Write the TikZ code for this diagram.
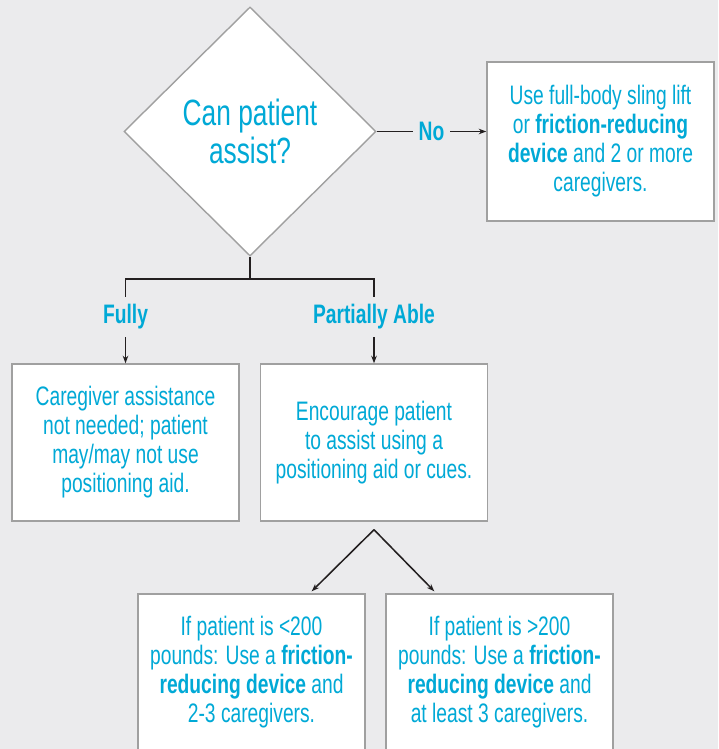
\documentclass[tikz,border=0pt]{standalone}
\usepackage{fontspec}
\setmainfont{Liberation Sans}[FakeStretch=0.72]
\usetikzlibrary{shapes.geometric,arrows.meta,calc}
\definecolor{bggray}{RGB}{235,235,237}
\definecolor{tealtext}{RGB}{0,169,214}
\definecolor{boxline}{RGB}{160,160,160}
\definecolor{linkline}{RGB}{35,31,32}
\tikzset{
  infobox/.style={draw=boxline,fill=white,line width=1pt,minimum width=5.675cm,minimum height=3.925cm,text=tealtext,align=center,font=\fontsize{19}{20.6}\selectfont},
  branchtag/.style={text=tealtext,font=\bfseries\fontsize{19}{20.6}\selectfont,minimum height=1cm,inner sep=0pt},
  link/.style={draw=linkline,line width=1.1pt},
  linkarrow/.style={link,-{Stealth[length=1.9mm,width=1.4mm]}}
}

\begin{document}
\begin{tikzpicture}[x=0.025cm,y=-0.025cm]
\fill[bggray] (0,0) rectangle (718,749);
\useasboundingbox (0,0) rectangle (718,749);
\clip (0,0) rectangle (718,749);
\node[diamond,aspect=1,draw=boxline,fill=white,line width=1pt,minimum width=6.3cm,minimum height=6.225cm,inner sep=0pt,text=tealtext,align=center,font=\fontsize{26}{27}\selectfont] (q) at (250,131.5) {Can patient\\assist?};
\node[infobox,minimum height=3.975cm] (lift) at (600.5,141.5) {Use full-body sling lift\\or \textbf{friction-reducing}\\\textbf{device} and 2 or more\\caregivers.};
\node[branchtag] (fullytag) at (125.5,317) {Fully};
\node[branchtag] (parttag) at (374,317) {Partially Able};
\node[infobox] (fully) at (125.5,442.5) {Caregiver assistance\\not needed; patient\\may/may not use\\positioning aid.};
\node[infobox] (partial) at (374,442.5) {Encourage patient\\to assist using a\\positioning aid or cues.};
\node[infobox] (light) at (251.5,672.5) {If patient is <200\\pounds: Use a \textbf{friction-}\\\textbf{reducing device} and\\2-3 caregivers.};
\node[infobox] (heavy) at (499.5,672.5) {If patient is >200\\pounds: Use a \textbf{friction-}\\\textbf{reducing device} and\\at least 3 caregivers.};

\draw[linkarrow] (q.east) -- node[fill=bggray,text=tealtext,font=\bfseries\fontsize{19}{20.6}\selectfont,inner xsep=0.15cm]{No} (q.east -| lift.west);
\coordinate (fork) at (250,279);
\draw[link] (q.south) -- (fork);
\draw[link] (fullytag.north) |- (fork) -| (parttag.north);
\draw[linkarrow] (fullytag.south) -- (fully.north);
\draw[linkarrow] (parttag.south) -- (partial.north);
\coordinate (apex) at ([yshift=-0.2cm]partial.south);
\draw[linkarrow] (apex) -- ([xshift=-1.35cm,yshift=0.05cm]light.north east);
\draw[linkarrow] (apex) -- ([xshift=1.225cm,yshift=0.05cm]heavy.north west);
\end{tikzpicture}
\end{document}
